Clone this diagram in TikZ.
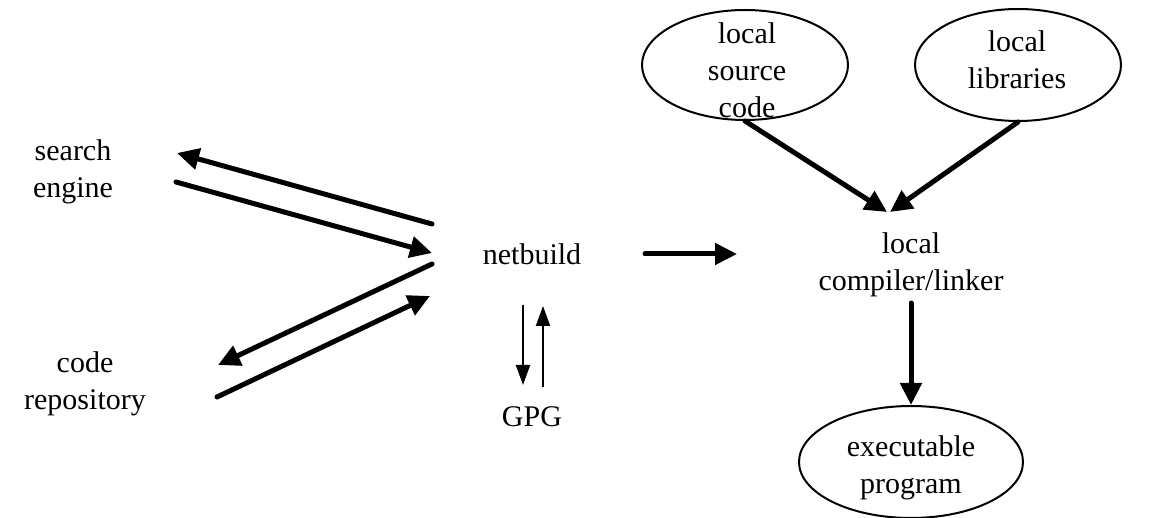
\documentclass[tikz,border=0pt]{standalone}
\usepackage{fontspec}
\setmainfont{Liberation Serif}
\usetikzlibrary{arrows.meta,shapes.geometric}
\begin{document}
\begin{tikzpicture}[x=1pt,y=-1pt,
  lbl/.style={font=\fontsize{30}{37}\selectfont, align=center, inner sep=0pt},
  oval/.style={draw, ellipse, line width=2pt, inner sep=0pt},
  thickarrow/.style={line width=5pt, line cap=round, -{Triangle[length=22pt,width=21pt]}},
  thinarrow/.style={line width=2pt, -{Triangle[length=20pt,width=14pt]}}]
\useasboundingbox (0,0) rectangle (1167,518);
% text nodes
\node[lbl] (search) at (73,172) {search\\engine};
\node[lbl] (repo) at (85,384) {code\\repository};
\node[lbl] (net) at (532,254) {netbuild};
\node[lbl] (gpg) at (532,417) {GPG};
\node[lbl] (comp) at (911,265) {local\\compiler/linker};
% ellipses
\node[oval, minimum width=206pt, minimum height=110pt] (src) at (745,65) {};
\node[lbl] (srct) at (747,70) {local\\source\\code};
\node[oval, minimum width=206pt, minimum height=112pt] (lib) at (1018,65) {};
\node[lbl] (libt) at (1017,60) {local\\libraries};
\node[oval, minimum width=224pt, minimum height=112pt] (exe) at (911,462) {};
\node[lbl] (exet) at (911,468) {executable\\program};
% connector end points
\coordinate (a1s) at (432,224); \coordinate (a1e) at (177,153);
\coordinate (a2s) at (176,182); \coordinate (a2e) at (432,253);
\coordinate (a3s) at (432,264); \coordinate (a3e) at (218,365);
\coordinate (a4s) at (217,397); \coordinate (a4e) at (430,296);
\coordinate (ns) at (645,254); \coordinate (ne) at (737,254);
\coordinate (gds) at (523,305); \coordinate (gde) at (523,385);
\coordinate (gus) at (543,387); \coordinate (gue) at (543,306);
\coordinate (cs1) at (887,212); \coordinate (cs2) at (890,212);
\coordinate (ces) at (911,303);
% connectors
\draw[thickarrow] (a1s) -- (a1e);
\draw[thickarrow] (a2s) -- (a2e);
\draw[thickarrow] (a3s) -- (a3e);
\draw[thickarrow] (a4s) -- (a4e);
\draw[thickarrow] (ns) -- (ne);
\draw[thinarrow] (gds) -- (gde);
\draw[thinarrow] (gus) -- (gue);
\draw[thickarrow] (src.south) -- (cs1);
\draw[thickarrow] (lib.south) -- (cs2);
\draw[thickarrow] (ces) -- (exe.north);
\end{tikzpicture}
\end{document}
